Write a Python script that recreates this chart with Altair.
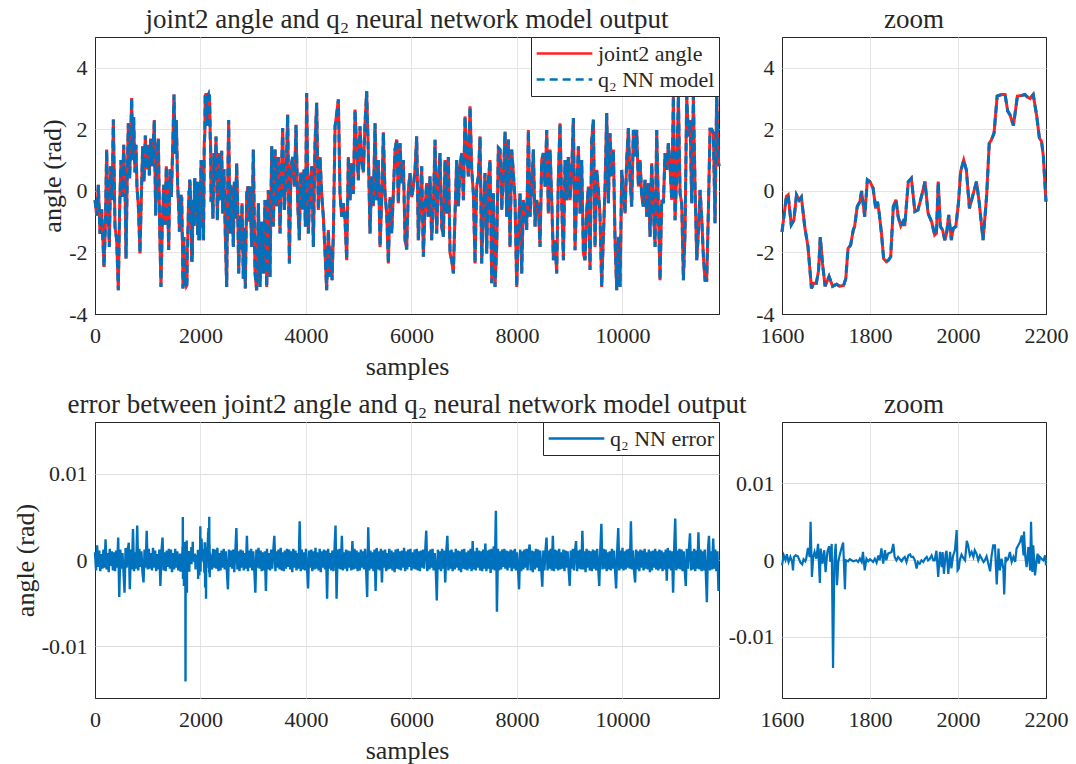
import altair as alt
import numpy as np
import pandas as pd

# ---------------- data ----------------
# joint2 angle (rad) over the full record, outside the zoomed window 1600..2200
t_main = [0, 32, 63, 95, 126, 171, 196, 221, 246, 272, 297, 322, 348, 379, 411, 442, 468, 493, 518, 544,
          569, 588, 613, 632, 657, 676, 695, 714, 733, 758, 777, 796, 822, 853, 878, 904, 929, 954, 979, 1005,
          1030, 1055, 1081, 1106, 1125, 1150, 1176, 1201, 1226, 1251, 1277, 1302, 1327, 1352, 1378, 1397, 1422,
          1447, 1473, 1498, 1523, 1542, 1567, 1593,
          2212, 2237, 2256, 2275, 2294, 2320, 2338, 2357, 2383, 2402, 2421, 2446, 2471, 2497, 2516, 2534, 2560,
          2579, 2598, 2623, 2642, 2661, 2686, 2705, 2724, 2749, 2768, 2787, 2812, 2831, 2850, 2876, 2901, 2926,
          2939, 2970, 3002, 3034, 3065, 3097, 3128, 3160, 3192, 3223, 3255, 3286, 3318, 3350, 3381, 3413, 3445,
          3476, 3508, 3533, 3558, 3590, 3621, 3653, 3685, 3716, 3748, 3780, 3811, 3843, 3874, 3900, 3931, 3963,
          3988, 4013, 4045, 4076, 4108, 4140, 4171, 4203, 4234, 4266, 4298, 4329, 4361, 4392, 4424, 4456, 4475,
          4494, 4519, 4551, 4582, 4614, 4645, 4677, 4709, 4740, 4772, 4803, 4835, 4867, 4898, 4930, 4961, 4993,
          5024, 5056, 5088, 5119, 5151, 5182, 5214, 5246, 5277, 5309, 5340, 5372, 5404, 5435, 5467, 5498, 5530,
          5562, 5593, 5625, 5656, 5688, 5720, 5751, 5783, 5814, 5846, 5878, 5909, 5941, 5972, 6004, 6036, 6067,
          6099, 6130, 6162, 6194, 6225, 6257, 6288, 6320, 6352, 6383, 6415, 6447, 6478, 6510, 6541, 6573, 6604,
          6636, 6668, 6699, 6731, 6762, 6794, 6826, 6857, 6889, 6920, 6952, 6984, 7015, 7047, 7078, 7110, 7142,
          7173, 7205, 7236, 7268, 7300, 7331, 7363, 7394, 7426, 7458, 7489, 7521, 7553, 7584, 7616, 7647, 7679,
          7711, 7742, 7774, 7805, 7837, 7868, 7900, 7932, 7963, 7995, 8026, 8058, 8090, 8121, 8153, 8184, 8216,
          8248, 8279, 8311, 8343, 8374, 8406, 8437, 8469, 8500, 8532, 8564, 8595, 8627, 8659, 8690, 8722, 8753,
          8785, 8816, 8848, 8880, 8911, 8943, 8974, 9006, 9038, 9069, 9101, 9132, 9164, 9196, 9227, 9259, 9290,
          9322, 9354, 9385, 9417, 9448, 9480, 9512, 9543, 9575, 9606, 9638, 9670, 9701, 9733, 9764, 9796, 9828,
          9859, 9891, 9922, 9954, 9986, 10017, 10049, 10080, 10112, 10144, 10175, 10207, 10238, 10270, 10302,
          10333, 10365, 10396, 10428, 10460, 10491, 10523, 10554, 10586, 10618, 10649, 10681, 10712, 10744,
          10776, 10807, 10839, 10870, 10902, 10934, 10965, 10997, 11029, 11060, 11092, 11123, 11155, 11186,
          11218, 11250, 11281, 11313, 11344, 11376, 11408, 11439, 11471, 11502, 11534, 11566, 11597, 11629,
          11660, 11692, 11723, 11755, 11786, 11818, 11830]
q_main = [-0.3, -0.8, 0.2, -1.4, -0.6, -2.47, -1.2, 1.34, -0.5, -1.82, 0.8, -0.3, 2.32, -1.16, -1.6, -3.23, -0.5, 1.0, -0.2, 1.5,
          0.2, -2.2, 0.6, 2.2, 0.4, 1.6, 3.02, 1.0, 2.4, 0.6, 1.5, 0.1, -0.5, -2.03, -0.2, 1.45, 0.3, 1.8, 0.7, 1.5,
          0.5, 1.7, 0.8, 1.6, 2.3, -0.8, 1.2, 1.7, -1.2, -3.12, -1.0, 0.2, -1.1, 0.8, -0.3, -1.92, 0.7,
          -0.2, 1.4, 3.13, 1.2, 2.3, 0.2, -0.8,
          0.25, -0.9, 1.23, 0.3, 1.77, -0.95, 0.5, 1.23, -0.3, 1.3, -0.73, 0.7, -1.5, -3.12, 0.2, 2.3, -1.38,
          0.2, -0.6, -1.82, 0.3, -0.9, 0.9, -0.5, -2.68, -0.8, -1.9, -0.4, -2.85, -1.2, -3.17, -0.1, 0.15, -1.0,
          0.14, -1.82, 1.34, -2.68, -3.23, -0.4, -3.12, -1.0, -2.68, -0.3, -3.12, 0.03, -2.8, 1.45, -1.16, 1.34, -0.5,
          1.1, -1.38, 0.5, 2.04, -0.62, 0.47, 2.48, -2.36, 0.8, 1.1, 0.14, 2.15, -0.4, -1.6, 0.6, -0.6, 0.7,
          -1.16, 3.18, -1.38, 0.14, 0.8, -1.82, 1.55, 2.86, -0.62, 1.1, -0.1, -0.84, -2.0, -3.23, -1.27, -2.8, -1.8,
          -2.9, -1.4, 2.1, 2.5, 2.97, -0.1, -0.84, -0.4, -0.95, -2.25, 1.1, -0.3, 0.9, -0.1, 2.64, 1.34, 0.35,
          2.1, 1.0, 0.6, 2.2, 3.24, 1.23, -1.38, 0.47, -0.5, 2.2, -0.3, 1.0, -1.82, -0.3, 1.9, -0.1, -0.73,
          -2.36, -0.2, -1.38, -0.1, 1.34, 1.67, -0.4, 1.55, 0.25, 1.0, -1.6, -1.9, 0.03, 0.58, -0.2, 0.14, 0.68,
          1.77, -1.6, -0.3, 0.8, -2.14, -0.5, 0.25, -0.84, 0.47, -1.6, -0.5, 1.66, -1.38, 0.35, 1.23, -1.16, -1.49,
          1.0, -0.73, 1.1, -2.03, -2.25, -2.68, -0.73, 1.0, -0.5, 0.8, 1.23, -0.3, 2.42, 1.23, 0.47, 2.75, 0.68,
          -0.08, -2.36, 0.14, 0.47, 1.77, -2.36, -0.62, 0.58, -2.03, 0.36, 1.0, -3.0, -0.08, -3.12, -1.8, 1.4, 1.34,
          -0.62, 0.47, 1.93, -0.84, 1.67, -1.82, 1.34, 0.58, -0.3, -3.12, -1.38, -0.08, -2.68, -0.3, -0.62, -1.27, 1.98,
          -0.84, 0.14, 1.34, -1.16, -0.3, -0.5, -1.82, 1.0, 1.23, 0.14, 1.98, -0.73, 1.34, -0.3, -2.25, -1.6, -2.68,
          0.47, 2.2, -0.4, -2.25, 1.0, -0.3, 1.1, -0.3, 0.68, 2.37, -1.93, -0.08, 1.45, -0.73, 1.0, -2.03, -2.25,
          -0.62, 0.14, -2.57, 1.66, 2.32, -1.82, 0.68, 0.03, -0.84, -3.12, -1.49, 0.14, 2.53, -0.4, 1.87, 0.47, 1.34,
          -1.6, -3.23, -1.49, -3.12, 0.68, -0.08, -0.73, 1.0, 2.04, 0.36, -0.51, 1.98, 1.12, 1.98, 0.14,
          1.0, -0.18, -0.51, 0.36, -0.84, 0.25, -1.49, 0.9, -0.62, -1.82, 1.98, -0.62, -2.9, -0.29,
          -0.4, 1.23, 0.68, 1.55, 0.8, -0.29, 3.08, -0.95, 0.58, 3.08, -0.08, -0.4, -2.9, -1.38,
          3.1, 1.77, 2.3, -0.4, 3.1, 0.14, -2.25, -1.38, 0.03, -0.84, -2.14, -2.9, -2.9, -0.62,
          2.0, 2.0, 1.87, -1.05, 3.2, 1.0, 0.8]

# joint2 angle (rad) in the zoomed window
t_zoom = [1600, 1610, 1614, 1621, 1627, 1633, 1639, 1644, 1652, 1659, 1667, 1672, 1678, 1683, 1687, 1692, 1698,
          1707, 1715, 1724, 1731, 1740, 1745, 1750, 1756, 1762, 1765, 1771, 1777, 1781, 1788, 1794, 1800, 1807,
          1813, 1817, 1821, 1826, 1831, 1837, 1842, 1847, 1853, 1859, 1864, 1870, 1875, 1879, 1887, 1894, 1902,
          1909, 1917, 1925, 1932, 1940, 1947, 1951, 1955, 1960, 1965, 1970, 1974, 1979, 1985, 1989, 1995, 2001,
          2006, 2013, 2019, 2026, 2031, 2042, 2048, 2057, 2065, 2071, 2076, 2082, 2089, 2099, 2107, 2113, 2118,
          2126, 2135, 2145, 2152, 2158, 2164, 2171, 2179, 2185, 2190, 2194, 2200]
q_zoom = [-1.33, -0.18, -0.13, -1.1, -0.95, -0.13, -0.3, -0.2, -1.2, -1.8, -3.17, -3.0, -3.0, -2.6, -1.5, -2.35, -3.1,
          -2.78, -3.1, -3.03, -3.1, -3.07, -2.85, -1.87, -1.76, -1.27, -1.16, -0.51, -0.35, 0.0, -0.84, 0.36, 0.3, 0.09,
          -0.57, -0.35, -0.73, -1.38, -2.2, -2.3, -2.25, -2.14, -0.51, -0.29, -0.84, -1.14, -1.0, -1.14, 0.3, 0.41, -0.67,
          -0.62, -0.18, 0.3, -0.73, -1.0, -1.43, -1.38, 0.3, -1.16, -1.27, -1.6, -1.38, -0.78, -1.6, -1.22, -1.16, -0.4,
          0.63, 1.0, 0.68, -0.57, -0.29, 0.3, -0.35, -1.6, -0.18, 1.55, 1.66, 1.88, 3.08, 3.13, 3.13, 2.59, 2.48,
          2.12, 3.08, 3.1, 3.13, 3.05, 3.0, 3.13, 2.42, 1.72, 1.6, 1.12, -0.35]

# q2 NN error, in milli-radians, one reading every 20 samples
err_step = 20
# samples 0 .. 1580
err_a_mrad = [0.9, -1.2, 1.7, -0.8, 1.1, -1.3, 0.7, -1.0, 1.2, -0.9, 2.4, -1.1, 0.8, -1.4, 1.3, -0.7, 1.0, -1.2, 0.9, -1.3,
              1.1, -0.9, 2.6, -4.3, 1.2, -1.0, 0.8, -1.3, -3.8, 1.4, -0.9, 1.1, 2.0, -3.4, 1.2, -1.1, 3.6, -1.3, 0.9, -1.0,
              4.0, -1.2, 1.3, -0.8, 1.0, -1.4, -2.6, 1.2, -0.9, 3.4, -1.1, 1.3, -1.0, 0.8, -1.2, 1.4, -0.9, 1.1, -1.3, 0.7,
              -1.1, 1.2, -3.0, 1.0, 2.6, -1.2, 0.9, -1.3, 1.1, -0.8, 1.3, -1.0, 1.2, -1.4, 0.8, -1.1, 1.3, -0.9, 1.0, -1.2]
# samples 2220 .. 11820
err_b_start = 2220
err_b_mrad = [-1.1, 1.3, -0.9, 1.2, -1.0, 1.4, -1.3, 0.8, -1.2, 1.1, -0.9, 1.3, -1.1, 1.0, -1.3, -3.4, 1.2, -0.8, 1.1, -1.0,
              1.2, -1.4, 0.9, 3.7, -1.1, 1.0, -1.3, 1.2, -0.9, 1.1, -1.2, 0.8, -1.0, 2.8, -1.3, 1.1, -0.9, 1.3, -1.2, 1.0,
              -1.1, -3.8, 1.2, -0.9, 1.4, -1.0, 1.1, -1.3, 0.9, -1.2, 1.0, -3.6, 1.3, -1.1, 0.8, -1.2, 1.2, -1.0, 1.1, 2.8,
              -1.3, 1.0, -0.9, 1.2, -1.1, 1.4, -1.2, 0.9, -1.3, 1.1, -1.0, 1.3, -0.8, 1.2, -1.1, 1.0, -1.4, 1.3, -0.9, 1.1,
              -1.2, 0.8, -1.0, 4.5, -1.3, 1.2, -1.1, 0.9, -1.2, 1.3, -1.0, -3.3, 1.1, -0.9, 1.2, -1.3, 1.0, -1.1, 1.4, -1.0,
              0.9, -1.2, 1.3, -1.4, 1.0, -0.9, 1.2, -1.1, 1.1, -4.5, 1.3, -1.0, 0.8, -1.2, 1.1, -1.3, 1.0, 4.0, -4.5, 1.2,
              -1.0, 1.3, -1.1, 2.8, -1.2, 0.9, -1.0, 1.2, -1.3, 1.1, -0.9, 1.0, -1.2, 2.2, -1.1, 1.3, -1.0, 1.1, -1.3, 0.9,
              -1.2, 1.2, -0.9, 1.0, -1.1, 1.3, -1.0, -4.3, 3.8, -1.2, 1.1, -1.0, 0.9, -1.3, 1.2, -3.6, 1.4, -1.1, 1.0, -1.2,
              1.3, -2.6, 1.1, -0.9, 1.2, -1.3, 0.8, -1.1, 1.3, -1.0, 1.1, -1.2, 0.9, -1.4, 1.2, -1.0, 1.3, -1.1, 1.0, -1.2,
              1.1, -0.9, 1.4, -1.3, 1.0, -1.1, 1.2, -0.8, 1.3, -1.2, 0.9, -1.0, 1.2, -1.1, 1.3, -1.2, 1.0, -1.3, 1.1, -0.9,
              1.2, -1.0, 1.1, 3.4, -1.3, 1.0, -1.1, 1.2, -0.9, 1.3, -1.2, 0.8, -1.0, -4.7, 1.2, -1.1, 1.0, -1.3, 1.3, -1.0,
              1.1, -2.6, 1.0, 2.8, -1.2, 1.1, -1.0, 1.2, -1.3, 0.9, -1.1, 1.3, -0.9, 1.1, -1.2, 1.0, -1.4, 1.2, -1.0, 1.3,
              -1.1, 0.9, -1.2, 1.1, -1.0, 1.3, -1.3, 2.2, -1.1, 1.0, -1.2, 1.4, -0.9, 1.1, -1.2, 1.0, -1.3, 1.2, -1.0, 1.9,
              -1.3, 1.1, -1.0, 1.2, -1.5, 1.3, -1.1, 1.6, -1.2, 5.7, -6.0, 1.3, -1.2, 1.0, -1.1, 1.2, -0.8, 1.3, -1.0, 1.1,
              -1.2, 1.0, -0.9, 1.2, -1.3, 1.1, -1.0, 1.3, -1.2, 0.9, -1.1, -3.4, 1.2, -1.3, 1.0, -1.1, 1.2, -0.9, 1.3, -1.2,
              1.0, 1.8, -1.2, 1.1, -1.4, 1.0, -1.1, 1.3, -0.9, 1.2, -1.3, 1.1, -1.0, -3.1, 1.1, -1.2, 1.0, 2.6, -1.2, 1.1,
              -1.0, 1.3, -1.2, 2.8, -1.3, 1.2, -1.0, 1.1, -1.2, 1.3, -1.1, 0.9, -1.0, 1.2, -1.3, 1.1, -0.9, 1.0, -1.2, -3.0,
              1.1, -1.0, 1.3, -1.2, 1.0, 2.2, -1.3, 1.1, -1.0, 1.2, -1.1, 3.4, -1.1, 1.0, -1.4, 1.3, -0.9, 1.1, -1.2, 1.0,
              -1.3, 1.2, -1.0, 1.1, -1.2, 1.3, -0.9, -3.0, 1.2, 4.2, -1.1, 1.3, -1.0, 1.2, -1.3, 0.9, -1.1, 1.0, -1.2, 1.3,
              -1.0, 1.1, -1.2, -3.3, 1.0, 3.7, -1.2, 1.1, -1.0, 1.4, -1.2, 1.0, -1.1, 1.2, -0.9, 1.3, -1.0, 4.5, -1.1, 1.1,
              -1.3, -2.6, 1.2, -1.1, 1.0, -1.3, 1.2, -0.9, 1.1, -1.2, 1.3, -1.0, 0.9, -1.1, 1.2, -1.4, 1.0, -1.2, 1.1, -0.9,
              1.3, -1.1, 1.0, -1.2, 1.2, -1.0, 1.1, -1.3, 0.9, -1.1, 1.2, -2.4, 1.4, -1.0, 1.1, -1.2, 1.0, -3.8, 1.2, 4.8,
              -1.2, 1.1, -1.0, 1.3, -1.1, 1.2, -1.3, 1.0, -1.1, -3.0, 1.3, -1.0, 1.2, 3.1, -1.2, 1.0, -1.1, 1.3, -1.3, 1.1,
              -1.0, 3.2, -1.1, 1.2, -1.3, 1.0, -1.2, 1.2, -1.4, -4.9, 1.1, 2.8, -1.2, 1.0, -1.1, 2.5, -1.0, 1.2, -1.3, 1.0,
              -3.6]

# q2 NN error (milli-radians) in the zoomed window
t_err_zoom = [1600, 1604, 1608, 1611, 1615, 1619, 1623, 1625, 1627, 1631, 1636, 1642, 1646, 1649, 1653, 1655, 1659,
              1663, 1665, 1668, 1671, 1674, 1678, 1682, 1686, 1688, 1692, 1696, 1699, 1703, 1707, 1710, 1713, 1716,
              1719, 1722, 1725, 1728, 1731, 1735, 1739, 1743, 1745, 1750, 1754, 1762, 1769, 1773, 1777, 1781, 1784,
              1788, 1792, 1796, 1800, 1803, 1807, 1811, 1815, 1819, 1822, 1826, 1830, 1834, 1837, 1841, 1849, 1853,
              1856, 1860, 1864, 1868, 1872, 1875, 1879, 1883, 1887, 1891, 1894, 1898, 1902, 1906, 1909, 1913, 1917,
              1921, 1925, 1929, 1932, 1936, 1940, 1944, 1947, 1951, 1955, 1959, 1963, 1965, 1968, 1972, 1974, 1978,
              1982, 1985, 1989, 1993, 1997, 1999, 2002, 2004, 2008, 2012, 2016, 2020, 2023, 2027, 2031, 2035, 2038,
              2042, 2046, 2050, 2054, 2058, 2061, 2065, 2069, 2073, 2076, 2080, 2084, 2088, 2092, 2095, 2099, 2103,
              2105, 2108, 2111, 2114, 2118, 2122, 2126, 2130, 2133, 2137, 2141, 2145, 2149, 2150, 2153, 2156, 2160,
              2164, 2166, 2169, 2171, 2175, 2179, 2181, 2184, 2186, 2190, 2194, 2198, 2200]
err_zoom_mrad = [-0.7, 0.6, 0.0, 0.74, -0.26, 0.4, -0.26, -1.35, 0.4, 0.6, 0.48, -0.35, -0.57, 0.1, -0.17, 0.17, 1.57,
                 0.4, 4.98, -2.2, 0.4, 1.05, 0.17, 2.1, -3.0, 1.48, -0.48, 1.27, -1.6, 1.05, 1.8, -0.26, 2.1, -14.1,
                 -0.26, 2.1, -3.3, -0.26, 0.6, 1.5, 2.27, -3.8, -0.04, -0.17, 0.1, -0.17, -0.04, -0.26, 0.17, -0.26, 1.05,
                 -1.35, 0.17, -0.17, 0.1, -0.04, -0.26, 0.17, -0.35, 0.6, -0.04, 1.5, -0.48, 1.27, -0.04, 0.83, 1.05, 2.1,
                 0.4, -0.04, 0.4, 0.1, -0.17, 0.17, 0.4, -0.26, 0.6, 0.74, 0.4, 0.4, -0.04, -1.1, -0.26, -0.48, -0.04,
                 -0.26, 0.17, 0.4, -0.04, 0.17, 0.6, -0.04, -0.04, 1.2, -2.2, 1.05, -0.92, 1.05, -1.8, 0.83, 1.18, -1.8,
                 1.05, -1.1, 0.6, 1.27, 3.9, -1.35, -1.1, -0.04, 0.7, 0.26, -0.04, 2.5, 1.92, 0.6, 1.05, 0.4, 1.27,
                 0.83, -0.04, 0.6, 0.17, -0.26, -0.04, 0.48, -0.48, -1.48, 0.4, 1.92, 1.92, -3.2, 1.48, -1.35, 0.17, -1.1,
                 -4.5, 0.4, -0.04, 0.17, 1.05, -0.26, 0.4, -0.26, 1.48, 1.92, 2.36, 3.2, 0.6, 3.7, 0.4, -0.92, 1.7,
                 -1.35, 5.0, -1.57, 1.92, -2.0, 0.17, 0.83, -0.48, 0.4, 0.17, -0.04, 0.6, -0.7]

# ---------------- styling ----------------
FONT = "Liberation Serif"
TXT = "#262626"
GRID = "#e4e4e4"
RED = "#ff2020"
BLUE = "#0072bd"
NAMES = ["joint2 angle", "q\u2082 NN model"]
ERRNAME = ["q\u2082 NN error"]
LBL = "datum.value < 0 ? '-' + format(-datum.value, '~g') : format(datum.value, '~g')"

# ---------------- tables ----------------
angle_t = np.concatenate([t_main, t_zoom]).astype(float)
angle_q = np.concatenate([q_main, q_zoom]).astype(float)
order = np.argsort(angle_t, kind="stable")
angle_t, angle_q = angle_t[order], angle_q[order]
df_full = pd.concat([pd.DataFrame({"t": angle_t, "q": angle_q, "series": n}) for n in NAMES], ignore_index=True)
df_zoom = pd.concat([pd.DataFrame({"t": t_zoom, "q": q_zoom, "series": n}) for n in NAMES], ignore_index=True)

t_a = np.arange(len(err_a_mrad)) * err_step
t_b = err_b_start + np.arange(len(err_b_mrad)) * err_step
err_t = np.concatenate([t_a, t_err_zoom, t_b]).astype(float)
err_v = np.concatenate([err_a_mrad, err_zoom_mrad, err_b_mrad]) / 1000.0
df_err = pd.DataFrame({"t": err_t, "e": err_v, "series": ERRNAME[0]})
df_err_zoom = pd.DataFrame({"t": t_err_zoom, "e": np.array(err_zoom_mrad) / 1000.0, "series": ERRNAME[0]})


def legend():
    return alt.Legend(title=None, orient="top-right", offset=0, padding=4, fillColor="white",
                      strokeColor="#262626", symbolType="stroke", symbolSize=3100, symbolStrokeWidth=2.6,
                      labelFont=FONT, labelFontSize=22, labelColor=TXT, labelOffset=4, clipHeight=25,
                      rowPadding=1, labelLimit=400)


def grid_color(edges):
    test = " || ".join("datum.value == %s" % e for e in edges)
    return alt.condition(test, alt.value(TXT), alt.value(GRID))


def x_axis(ticks, title, edges):
    return alt.Axis(values=ticks, title=title, labelExpr=LBL, labelFlush=False, gridColor=grid_color(edges))


def angle_panel(df, w, h, xdom, xticks, xedges, title, leg, ytitle, xtitle):
    base = alt.Chart(df).encode(
        x=alt.X("t:Q", scale=alt.Scale(domain=xdom, nice=False, zero=False), axis=x_axis(xticks, xtitle, xedges)),
        y=alt.Y("q:Q", scale=alt.Scale(domain=[-4, 5], nice=False, zero=False),
                axis=alt.Axis(values=[-4, -2, 0, 2, 4], title=ytitle, labelExpr=LBL, gridColor=grid_color([-4]))),
        color=alt.Color("series:N", scale=alt.Scale(domain=NAMES, range=[RED, BLUE]), legend=leg),
        strokeDash=alt.StrokeDash("series:N", scale=alt.Scale(domain=NAMES, range=[[1, 0], [8, 5]]), legend=leg),
    )
    red = base.transform_filter(alt.datum.series == NAMES[0]).mark_line(strokeWidth=3)
    blue = base.transform_filter(alt.datum.series == NAMES[1]).mark_line(strokeWidth=3)
    return alt.layer(red, blue).properties(width=w, height=h, title=title)


def err_panel(df, w, h, xdom, xticks, xedges, ydom, title, leg, ytitle, xtitle, sw):
    return alt.Chart(df).mark_line(strokeWidth=sw).encode(
        x=alt.X("t:Q", scale=alt.Scale(domain=xdom, nice=False, zero=False), axis=x_axis(xticks, xtitle, xedges)),
        y=alt.Y("e:Q", scale=alt.Scale(domain=ydom, nice=False, zero=False),
                axis=alt.Axis(values=[-0.01, 0, 0.01], title=ytitle, labelExpr=LBL)),
        color=alt.Color("series:N", scale=alt.Scale(domain=ERRNAME, range=[BLUE]), legend=leg),
    ).properties(width=w, height=h, title=title)


XT_FULL = [0, 2000, 4000, 6000, 8000, 10000]
XT_ZOOM = [1600, 1800, 2000, 2200]

p1 = angle_panel(df_full, 624, 277, [0, 11830], XT_FULL, [0],
                 "joint2 angle and q\u2082 neural network model output", legend(), "angle (rad)", "samples")
p2 = angle_panel(df_zoom, 264, 277, [1600, 2200], XT_ZOOM, [1600, 2200], "zoom", None, None, None)
p3 = err_panel(df_err, 624, 276, [0, 11830], XT_FULL, [0], [-0.016, 0.016],
               "error between joint2 angle and q\u2082 neural network model output", legend(), "angle (rad)",
               "samples", 2.4)
p4 = err_panel(df_err_zoom, 264, 276, [1600, 2200], XT_ZOOM, [1600, 2200], [-0.018, 0.018], "zoom", None, None,
               None, 2.2)

chart = alt.concat(p1, p2, p3, p4, columns=2, spacing={"row": 108, "column": 63}, bounds="flush",
                   align="each").resolve_scale(
    color="independent", strokeDash="independent"
).properties(
    padding={"left": 11, "top": 5, "right": 5, "bottom": 5},
    background="white",
).configure_axis(
    labelFont=FONT, labelFontSize=22, labelColor=TXT, titleFont=FONT, titleFontSize=26,
    titleFontWeight="normal", titleColor=TXT, domain=False, ticks=False, grid=True,
    gridWidth=1,
).configure_axisX(labelPadding=11, titlePadding=7).configure_axisY(labelPadding=8, titlePadding=3).configure_view(
    stroke="#262626", strokeWidth=1
).configure_title(
    font=FONT, fontSize=27, fontWeight="normal", color=TXT, offset=3
)

chart.save("out.html", embed_options={"renderer": "svg", "actions": False})
